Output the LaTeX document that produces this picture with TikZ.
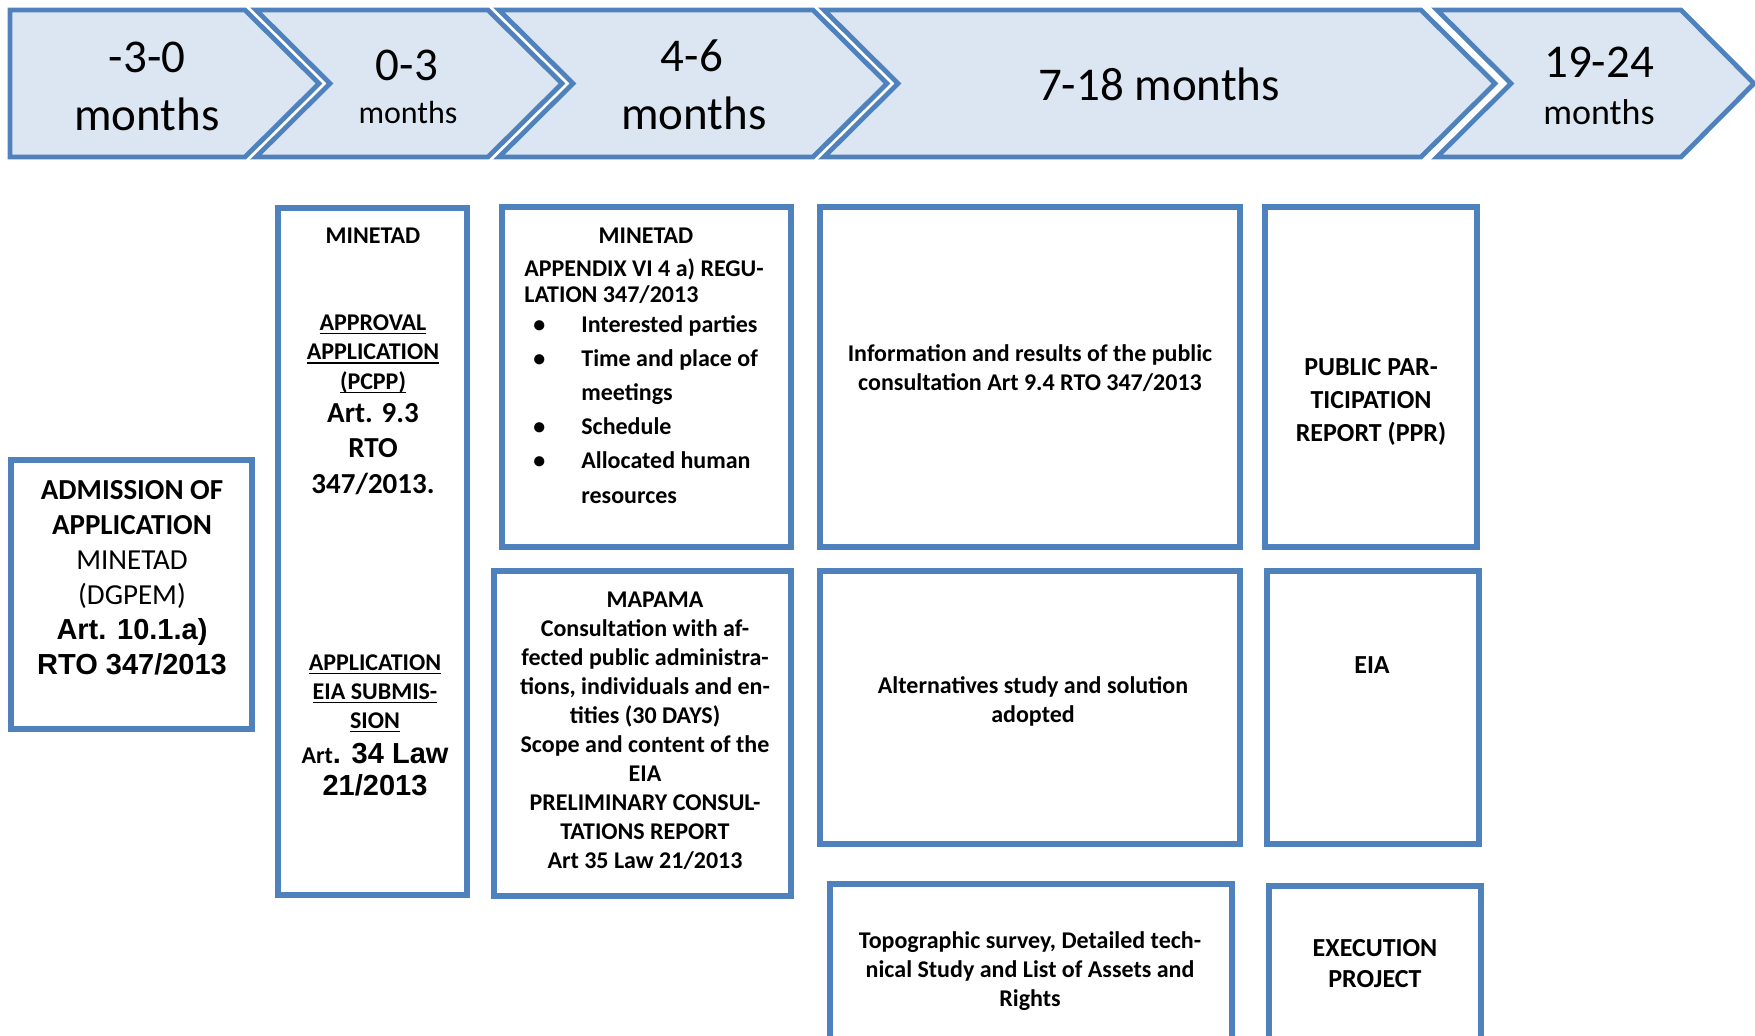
\documentclass[tikz,border=0pt]{standalone}
\usepackage{fontspec}
\setmainfont{Carlito}
\newfontfamily\arialf{Liberation Sans}
\definecolor{bord}{RGB}{79,129,189}
\definecolor{chfill}{RGB}{220,230,242}
\newcommand\ulx[1]{\vtop{\hbox{\raisebox{0pt}[\height][0pt]{#1}}\kern1.3pt\hrule height 0.9pt}}
\begin{document}
\begin{tikzpicture}[x=0.5pt,y=-0.5pt,
  chev/.style={draw=bord, fill=chfill, line width=2.4pt, line join=miter},
  bx/.style={draw=bord, line width=2.6pt, line join=miter},
  t/.style={inner sep=0pt, anchor=base, align=center},
  big/.style={font=\fontsize{23.5}{28}\selectfont},
  sb/.style={font=\bfseries\fontsize{12}{14.5}\selectfont},
  mb/.style={font=\bfseries\fontsize{13}{16.5}\selectfont}]
\useasboundingbox (0,0) rectangle (1755,1035);
\clip (0,0) rectangle (1755,1035);
% chevrons
\draw[chev] (10,10) -- (245,10) -- (319,83.5) -- (245,157) -- (10,157) -- cycle;
\draw[chev] (256,10) -- (488,10) -- (562,83.5) -- (488,157) -- (256,157) -- (330,83.5) -- cycle;
\draw[chev] (499,10) -- (813,10) -- (887,83.5) -- (813,157) -- (499,157) -- (573,83.5) -- cycle;
\draw[chev] (824,10) -- (1421,10) -- (1495,83.5) -- (1421,157) -- (824,157) -- (898,83.5) -- cycle;
\draw[chev] (1437,10) -- (1681,10) -- (1754,83.5) -- (1681,157) -- (1437,157) -- (1511,83.5) -- cycle;
\node[t,big] (c1a) at (147,72) {-3-0};
\node[t,big] (c1b) at (147,130) {months};
\node[t,big] (c2a) at (407,80) {0-3};
\node[t,font=\fontsize{16}{19}\selectfont] (c2b) at (408,123) {months};
\node[t,big] (c3a) at (692,71) {4-6};
\node[t,big] (c3b) at (694,129) {months};
\node[t,big] (c4a) at (1159,100) {7-18 months};
\node[t,big] (c5a) at (1599,77) {19-24};
\node[t,font=\fontsize{18}{21}\selectfont] (c5b) at (1599,124) {months};
% boxes
\draw[bx] (11,460) rectangle (252,729);
\draw[bx] (278,208) rectangle (467,895);
\draw[bx] (502,207) rectangle (791,547);
\draw[bx] (494,571) rectangle (791,896);
\draw[bx] (820,207) rectangle (1240,547);
\draw[bx] (1265,207) rectangle (1477,547);
\draw[bx] (820,571) rectangle (1240,844);
\draw[bx] (1267,571) rectangle (1479,844);
\draw[bx] (830,884) rectangle (1232,1080);
\draw[bx] (1269,886) rectangle (1481,1080);
% box A (anchor base = last line)
\node[t,font=\fontsize{14.5}{17.5}\selectfont] (adm) at (132,674)
  {{\bfseries ADMISSION OF}\\{\bfseries APPLICATION}\\MINETAD\\(DGPEM)\\{\arialf\bfseries Art. 10.1.a)}\\{\arialf\bfseries RTO 347/2013}};
% box B
\node[t,sb] (bmin) at (373,243) {MINETAD};
\node[t,font=\bfseries\fontsize{12}{14.75}\selectfont] (bapp) at (373,389)
  {\ulx{APPROVAL}\\\ulx{APPLICATION}\\\ulx{(PCPP)}};
\node[t,font=\bfseries\fontsize{14.5}{17.75}\selectfont] (bart) at (373,493)
  {Art. 9.3\\RTO\\347/2013.};
\node[t,sb] (beia) at (375,728)
  {\ulx{APPLICATION}\\\ulx{EIA SUBMIS-}\\\ulx{SION}};
\node[t,font=\bfseries\fontsize{14.5}{16}\selectfont] (blaw) at (375,795)
  {{\fontsize{12}{14}\selectfont Art}{\arialf. 34 Law}\\{\arialf 21/2013}};
% box C
\node[t,sb] (cmin) at (646,243) {MINETAD};
\node[t,anchor=base west,align=left,font=\bfseries\fontsize{12}{13}\selectfont] (capp) at (524,302)
  {APPENDIX VI 4 a) REGU-\\LATION 347/2013};
\node[t,anchor=base west,align=left,font=\bfseries\fontsize{12}{17.1}\selectfont] (cbul) at (533,503)
  {\makebox[24pt][l]{\textbullet}Interested parties\\
   \makebox[24pt][l]{\textbullet}Time and place of\\
   \hspace*{24pt}meetings\\
   \makebox[24pt][l]{\textbullet}Schedule\\
   \makebox[24pt][l]{\textbullet}Allocated human\\
   \hspace*{24pt}resources};
% box D
\node[t,sb] (dmap) at (645,868)
  {\hspace*{10pt}MAPAMA\\Consultation with af-\\fected public administra-\\tions, individuals and en-\\tities (30 DAYS)\\Scope and content of the\\EIA\\PRELIMINARY CONSUL-\\TATIONS REPORT\\Art 35 Law 21/2013};
% box E-J
\node[t,sb] (einf) at (1030,390)
  {Information and results of the public\\consultation Art 9.4 RTO 347/2013};
\node[t,mb] (fppr) at (1371,441) {PUBLIC PAR-\\TICIPATION\\REPORT (PPR)};
\node[t,sb] (galt) at (1033,722) {Alternatives study and solution\\adopted};
\node[t,mb] (heia) at (1372,673) {EIA};
\node[t,sb] (itop) at (1030,1006)
  {Topographic survey, Detailed tech-\\nical Study and List of Assets and\\Rights};
\node[t,font=\bfseries\fontsize{13}{15.5}\selectfont] (jexe) at (1375,987) {EXECUTION\\PROJECT};
\end{tikzpicture}
\end{document}
